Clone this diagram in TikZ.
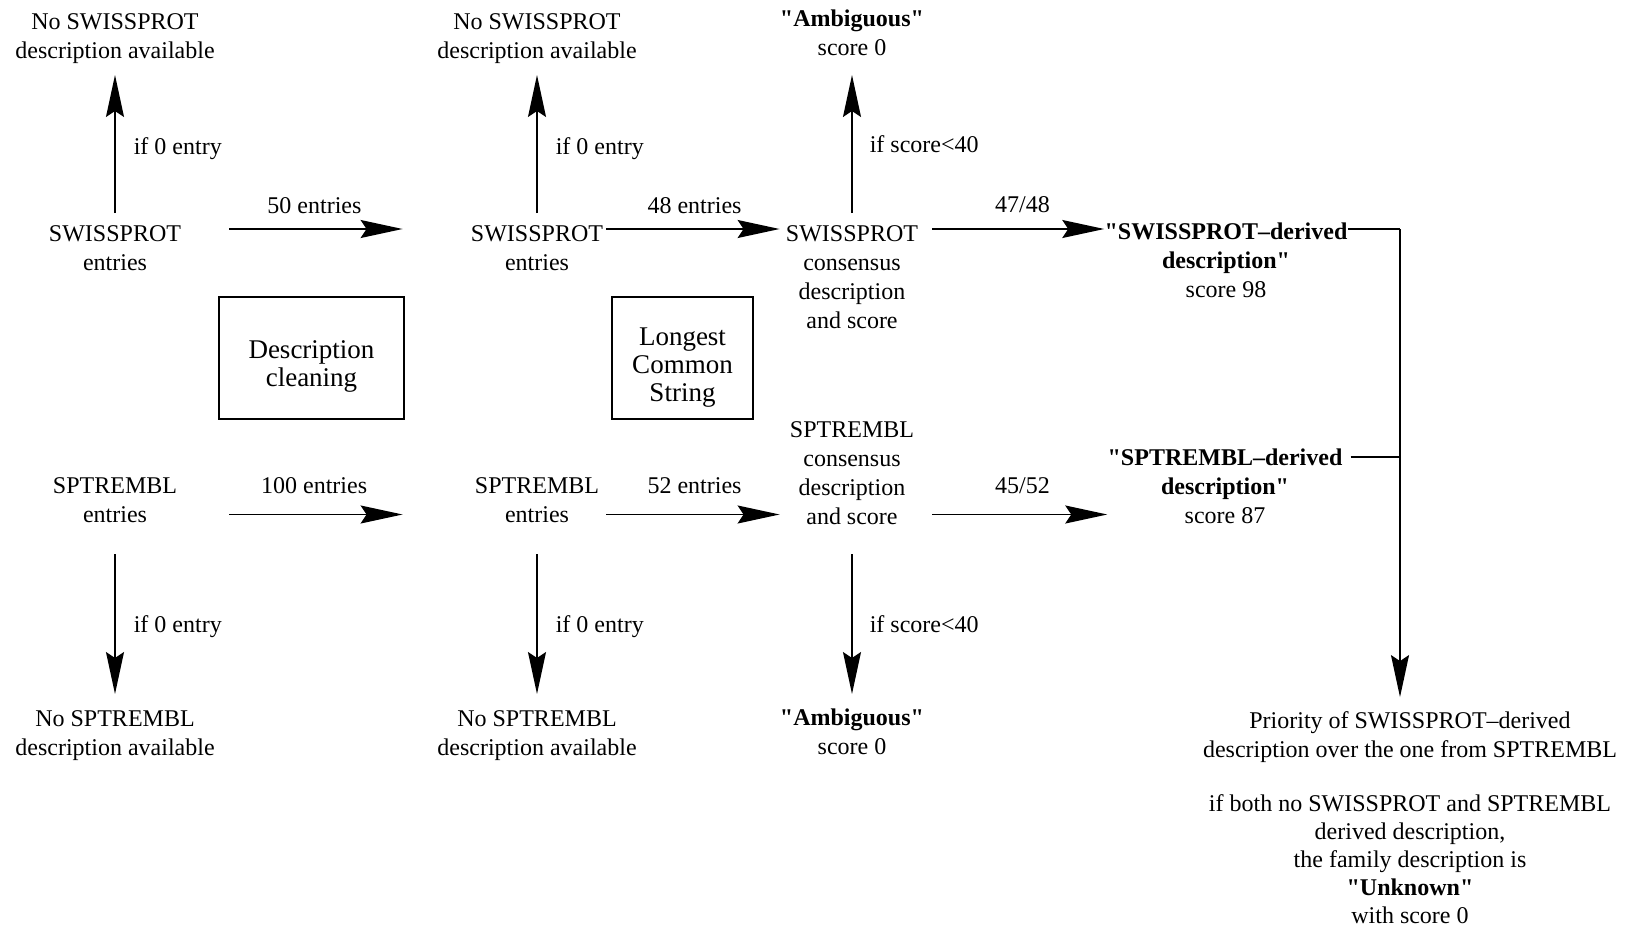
\documentclass[tikz,border=0pt]{standalone}
\usepackage{fontspec}
\setmainfont{Liberation Serif}
\usetikzlibrary{arrows.meta, positioning}
\newcommand{\qq}[1]{\textquotedbl#1\textquotedbl}

\begin{document}
\begin{tikzpicture}[
  x=0.5pt, y=-0.5pt,
  txt/.style={align=center, inner sep=0pt, font=\fontsize{12}{14.5}\selectfont},
  procbox/.style={draw, line width=0.75pt, align=center, inner sep=0pt, minimum height=61pt, font=\fontsize{13.5}{14}\selectfont},
  arr/.style={-{Stealth[length=21pt, width=9pt, inset=3pt]}, line width=0.8pt},
  lbl/.style={inner sep=0pt, font=\fontsize{12}{14}\selectfont}
]
  \useasboundingbox (0,0) rectangle (1630,926);

  % levels of the connectors
  \coordinate (swrow) at (0,229);
  \coordinate (sprow) at (0,514.5);
  \coordinate (uplo) at (0,213);
  \coordinate (uphi) at (0,75);
  \coordinate (dnhi) at (0,554);
  \coordinate (dnlo) at (0,694);
  \coordinate (jn) at (1400,229);
  \coordinate (spj) at (1400,457);

  % SWISSPROT row
  \node[txt] (swnone1) at (115,38.5) {No SWISSPROT\\description available};
  \node[txt] (sw1) at (115,248) {SWISSPROT\\entries};
  \node[txt] (swnone2) at (537,38.5) {No SWISSPROT\\description available};
  \node[txt] (sw2) at (537,248) {SWISSPROT\\entries};
  \node[txt] (swamb) at (852,32.5) {\textbf{\qq{Ambiguous}}\\score 0};
  \node[txt] (swcons) at (852,277) {SWISSPROT\\consensus\\description\\and score};
  \node[txt] (swder) at (1226,260.5) {\textbf{\textquotedbl SWISSPROT--derived}\\\textbf{description\textquotedbl}\\score 98};

  % processing steps
  \node[procbox, minimum width=92.5pt] (clean) at (311.5,358) {\rule{0pt}{17.5pt}Description\\cleaning};
  \node[procbox, minimum width=70.5pt] (lcs) at (682.5,358) {\rule{0pt}{18.5pt}Longest\\Common\\String};

  % SPTREMBL row
  \node[txt] (sp1) at (115,500.5) {SPTREMBL\\entries};
  \node[txt] (spnone1) at (115,736) {No SPTREMBL\\description available};
  \node[txt] (sp2) at (537,500.5) {SPTREMBL\\entries};
  \node[txt] (spnone2) at (537,736) {No SPTREMBL\\description available};
  \node[txt] (spcons) at (852,473) {SPTREMBL\\consensus\\description\\and score};
  \node[txt] (spamb) at (852,731.5) {\textbf{\qq{Ambiguous}}\\score 0};
  \node[txt] (spder) at (1225,486.5) {\textbf{\textquotedbl SPTREMBL--derived}\\\textbf{description\textquotedbl}\\score 87};

  % final decision
  \node[txt] (prio) at (1410,737) {Priority of SWISSPROT--derived\\description over the one from SPTREMBL};
  \node[txt, font=\fontsize{12}{14}\selectfont] (unknown) at (1410,859) {if both no SWISSPROT and SPTREMBL\\derived description,\\the family description is\\\textbf{\qq{Unknown}}\\with score 0};

  % SWISSPROT connectors
  \draw[arr] (sw1 |- uplo) -- node[lbl, pos=0.47, right=9pt] {if 0 entry} (swnone1 |- uphi);
  \draw[arr] (sw2 |- uplo) -- node[lbl, pos=0.47, right=9pt] {if 0 entry} (swnone2 |- uphi);
  \draw[arr] (swcons |- uplo) -- node[lbl, right=8.5pt] {if score<40} (swamb |- uphi);
  \draw[arr, shorten <=24pt, shorten >=34pt] (sw1.east |- swrow) -- node[lbl, pos=0.46, above=7pt] {50 entries} (sw2.west |- swrow);
  \draw[arr, shorten <=1.5pt, shorten >=3pt] (sw2.east |- swrow) -- node[lbl, above=7pt] {48 entries} (swcons.west |- swrow);
  \draw[arr, shorten <=7pt] (swcons.east |- swrow) -- node[lbl, pos=0.56, above=7.5pt] {47/48} (swder.west |- swrow);

  % SPTREMBL connectors
  \draw[arr] (sp1 |- dnhi) -- node[lbl, pos=0.52, right=9pt] {if 0 entry} (spnone1 |- dnlo);
  \draw[arr] (sp2 |- dnhi) -- node[lbl, pos=0.52, right=9pt] {if 0 entry} (spnone2 |- dnlo);
  \draw[arr] (spcons |- dnhi) -- node[lbl, right=8.5pt] {if score<40} (spamb |- dnlo);
  \draw[arr, shorten <=26pt, shorten >=36pt] (sp1.east |- sprow) -- node[lbl, pos=0.46, above=10pt] {100 entries} (sp2.west |- sprow);
  \draw[arr, shorten <=3.5pt, shorten >=5pt] (sp2.east |- sprow) -- node[lbl, above=10pt] {52 entries} (spcons.west |- sprow);
  \draw[arr, shorten <=9pt] (spcons.east |- sprow) -- node[lbl, pos=0.56, above=10pt] {45/52} (spder.west |- sprow);

  % merge of both derived descriptions
  \draw[line width=0.8pt] (swder.east |- swrow) -- (jn);
  \draw[line width=0.8pt, shorten <=4pt] (spder.east |- spj) -- (spj);
  \draw[arr, shorten >=7pt] (jn) -- (jn |- prio.north);
\end{tikzpicture}
\end{document}
